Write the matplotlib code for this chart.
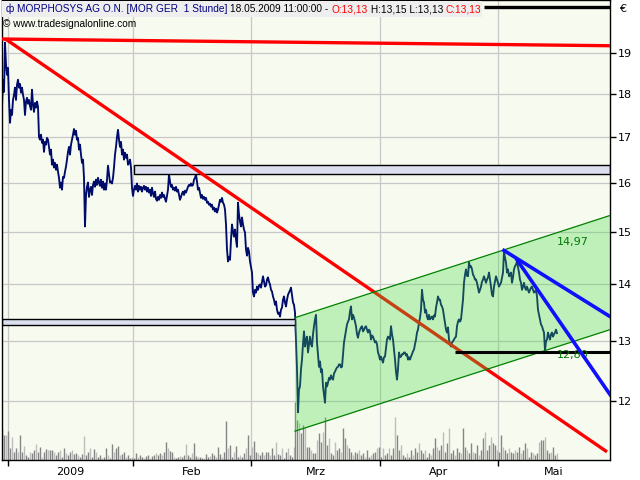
import numpy as np
import matplotlib
matplotlib.use('Agg')
import matplotlib.pyplot as plt
from matplotlib.ticker import FixedLocator, NullLocator, FixedFormatter, NullFormatter
from matplotlib.patches import Rectangle

# ---------------- data (time index = hourly-bar slot, price in EUR) ----------------
close = [
    17.69, 18.33, 18.04, 19.25, 18.70, 18.45, 18.62, 17.85, 17.32, 17.62,
    17.50, 17.85, 17.97, 18.14, 17.85, 18.21, 18.33, 18.14, 18.23, 18.02,
    18.14, 17.97, 17.85, 17.50, 17.81, 17.90, 17.76, 17.85, 17.71, 17.62,
    18.09, 17.74, 17.57, 17.78, 17.67, 17.81, 17.69, 17.00, 16.94, 17.05,
    16.87, 16.94, 16.67, 16.89, 16.83, 16.98, 16.94, 16.78, 16.61, 16.72,
    16.39, 16.50, 16.33, 16.43, 16.28, 16.39, 16.24, 16.11, 15.90, 16.01,
    15.86, 16.13, 16.11, 16.24, 16.35, 16.50, 16.67, 16.78, 16.61, 16.83,
    16.94, 17.05, 17.18, 17.05, 17.14, 16.94, 16.98, 16.72, 16.83, 16.61,
    16.43, 16.50, 16.11, 15.11, 15.75, 15.92, 16.01, 15.71, 15.86, 15.92,
    15.75, 15.96, 16.03, 15.92, 16.07, 15.96, 16.11, 16.01, 15.94, 16.07,
    15.90, 16.03, 15.86, 15.99, 15.86, 16.07, 16.37, 16.18, 16.01, 16.03,
    15.99, 16.11, 16.33, 16.61, 16.78, 17.00, 17.16, 16.94, 16.78, 16.89,
    16.61, 16.72, 16.50, 16.65, 16.54, 16.61, 16.39, 16.43, 16.50, 16.33,
    15.90, 15.73, 15.86, 15.94, 15.86, 15.99, 15.82, 15.94, 15.86, 15.92,
    15.82, 15.90, 15.94, 15.86, 15.92, 15.82, 15.90, 15.80, 15.86, 15.73,
    15.90, 15.78, 15.71, 15.82, 15.67, 15.63, 15.71, 15.65, 15.75, 15.69,
    15.80, 15.71, 15.75, 15.67, 15.61, 15.73, 15.86, 16.18, 16.03, 15.92,
    15.96, 15.86, 15.90, 15.84, 15.92, 15.82, 15.86, 15.75, 15.65, 15.71,
    15.78, 15.82, 15.75, 15.84, 15.80, 15.86, 15.92, 15.96, 15.94, 15.99,
    15.94, 15.96, 16.07, 16.11, 16.18, 16.03, 15.86, 15.90, 15.80, 15.69,
    15.75, 15.67, 15.71, 15.65, 15.69, 15.59, 15.61, 15.55, 15.57, 15.51,
    15.55, 15.45, 15.49, 15.41, 15.47, 15.39, 15.45, 15.55, 15.65, 15.61,
    15.69, 15.59, 15.55, 15.45, 15.15, 14.66, 14.43, 14.52, 14.46, 14.85,
    15.15, 15.01, 14.91, 15.05, 14.85, 14.71, 15.59, 15.35, 15.21, 15.11,
    15.29, 15.15, 15.05, 14.99, 14.66, 14.54, 14.69, 14.62, 14.43, 14.32,
    14.22, 13.85, 13.78, 13.90, 13.85, 13.96, 13.90, 13.98, 14.00, 13.94,
    14.05, 14.15, 14.05, 13.96, 13.98, 14.09, 14.13, 14.05, 14.00, 13.90,
    13.87, 13.78, 13.72, 13.63, 13.69, 13.54, 13.47, 13.49, 13.42, 13.54,
    13.58, 13.72, 13.78, 13.67, 13.60, 13.72, 13.81, 13.85, 13.89, 13.94,
    13.81, 13.67, 13.63, 13.49, 13.02, 12.52, 11.83, 12.19, 12.24, 12.52,
    12.68, 12.94, 13.16, 12.90, 13.02, 13.07, 12.80, 12.94, 13.07, 12.94,
    12.90, 13.11, 13.25, 13.37, 13.45, 12.97, 12.77, 12.56, 12.65, 12.47,
    12.52, 12.24, 12.11, 11.98, 12.30, 12.24, 12.30, 12.38, 12.35, 12.42,
    12.37, 12.35, 12.45, 12.48, 12.52, 12.55, 12.56, 12.60, 12.60, 12.55,
    12.56, 12.77, 12.97, 13.07, 13.16, 13.28, 13.33, 13.37, 13.51, 13.60,
    13.37, 13.45, 13.40, 13.33, 13.25, 13.11, 13.05, 13.14, 13.19, 13.23,
    13.25, 13.16, 13.19, 13.23, 13.25, 13.19, 13.14, 13.19, 13.16, 13.02,
    13.09, 13.07, 13.02, 12.97, 12.99, 12.94, 12.80, 12.75, 12.68, 12.73,
    12.68, 12.63, 12.72, 12.73, 12.88, 13.02, 13.07, 13.05, 13.02, 13.25,
    13.11, 13.02, 12.85, 12.68, 12.48, 12.35, 12.52, 12.80, 12.72, 12.73,
    12.77, 12.77, 12.80, 12.80, 12.75, 12.77, 12.68, 12.72, 12.68, 12.73,
    12.77, 12.82, 12.85, 12.94, 13.02, 13.14, 13.19, 13.31, 13.40, 13.54,
    13.90, 13.72, 13.67, 13.49, 13.54, 13.42, 13.37, 13.45, 13.37, 13.40,
    13.42, 13.37, 13.44, 13.42, 13.58, 13.67, 13.78, 13.72, 13.72, 13.63,
    13.60, 13.54, 13.42, 13.31, 13.19, 13.14, 13.23, 13.02, 12.94, 12.90,
    12.97, 12.99, 13.02, 13.05, 13.07, 13.25, 13.33, 13.37, 13.33, 13.37,
    13.54, 13.72, 14.03, 14.18, 14.28, 14.16, 14.15, 14.41, 14.32, 14.34,
    14.28, 14.18, 14.15, 14.09, 14.09, 14.03, 13.94, 13.85, 13.90, 13.96,
    14.05, 14.09, 14.15, 14.09, 14.03, 14.09, 14.13, 14.22, 14.09, 13.96,
    13.81, 13.78, 13.96, 14.05, 14.15, 14.09, 14.03, 13.96, 14.00, 14.03,
    14.13, 14.22, 14.62, 14.50, 14.41, 14.22, 14.28, 14.15, 14.18, 14.22,
    14.03, 14.13, 14.28, 14.34, 14.37, 14.43, 14.32, 14.22, 14.09, 14.03,
    13.90, 13.96, 14.03, 13.94, 13.90, 13.96, 13.90, 13.85, 13.90, 13.94,
    13.96, 13.90, 13.85, 13.87, 13.90, 13.78, 13.54, 13.45, 13.37, 13.28,
    13.25, 13.19, 13.14, 12.83, 12.99, 13.02, 13.14, 13.07, 13.02, 13.11,
    13.14, 13.07, 13.11, 13.14, 13.19, 13.13,
]
t_first = 2
t_price = list(range(t_first, t_first + len(close)))

volume = [
    31, 25, 25, 29, 12, 23, 8, 12, 8, 25,
    8, 14, 5, 3, 8, 7, 10, 16, 8, 13,
    3, 8, 11, 10, 10, 10, 8, 5, 8, 10,
    3, 12, 7, 5, 8, 10, 6, 7, 5, 3,
    6, 24, 5, 8, 12, 3, 11, 8, 3, 5,
    2, 3, 12, 5, 2, 16, 8, 12, 14, 5,
    6, 8, 3, 5, 2, 3, 2, 7, 3, 5,
    3, 2, 4, 5, 2, 4, 5, 7, 5, 7,
    5, 8, 18, 12, 9, 8, 3, 2, 3, 4,
    3, 5, 16, 5, 3, 7, 17, 4, 3, 3,
    2, 2, 6, 3, 4, 7, 5, 3, 13, 6,
    3, 8, 39, 12, 15, 3, 8, 14, 3, 5,
    3, 7, 12, 25, 5, 13, 19, 8, 7, 5,
    8, 5, 8, 8, 5, 12, 5, 18, 6, 5,
    12, 2, 8, 12, 5, 3, 13,
    58, 40, 37, 27, 35, 32, 13, 13, 10, 7,
    7, 20, 27, 18, 28, 43, 15, 22, 7, 5,
    18, 10, 12, 8, 32, 22, 15, 12, 8, 5,
    8, 7, 10, 5, 7, 3, 10, 3, 5, 7,
    8, 12, 13, 3, 12, 5, 7, 12, 5, 12,
    43, 25, 10, 15, 5, 3, 7, 3, 10, 5,
    12, 8, 17, 10, 7, 10, 3, 7, 5, 12,
    22, 13, 10, 15, 28, 8, 17, 32, 7, 10,
    5, 12, 8, 7, 32, 13, 10, 7, 17, 8,
    7, 15, 5, 10, 22, 28, 10, 15, 23, 17,
    15, 10, 8, 25, 13, 10, 7, 12, 8, 7,
    10, 8, 13, 7, 10, 17, 12, 3, 8, 7,
    5, 7, 18, 20, 20, 23, 10, 7, 8, 13,
    5, 7,
]
t_volume = list(range(2, 296, 2)) + list(range(295, 558, 2))

# drawing objects (time index, price)
top_red = ([2, 610], [19.34, 19.17])
diag_red = ([5, 607], [19.35, 11.23])
box_upper = (134, 610, 16.20, 16.38)
box_lower = (2, 295, 13.27, 13.38)
chan_t = [295, 610]
chan_hi = [13.40, 15.33]
chan_lo = [11.54, 13.19]
support = ([455, 610], [12.80, 12.80])
top_black = ([484, 610], [20.18, 20.18])
blue_flat = ([504, 610], [14.64, 13.42])
blue_steep = ([517, 610], [14.46, 12.11])
chan_label = (557, 14.81, "14,97")
sup_label = (557, 12.76, "12,80")

month_starts = [8, 133, 251, 380, 498]
month_names = ["2009", "Feb", "Mrz", "Apr", "Mai"]
price_ticks = [12, 13, 14, 15, 16, 17, 18, 19]
x_range = (2, 610)
y_range = (11.11, 20.36)

# ---------------- figure ----------------
W, H = 640, 480
fig = plt.figure(figsize=(W / 100, H / 100), dpi=100)
fig.patch.set_facecolor('white')
ax = fig.add_axes([2 / W, 20 / H, 608 / W, 460 / H])
ax.set_facecolor('#f7faef')
ax.set_yscale('log')
ax.set_xlim(*x_range)
ax.set_ylim(*y_range)

for sp in ax.spines.values():
    sp.set_color('black')
    sp.set_linewidth(1.0)

# grid
ax.set_axisbelow(True)
for p in price_ticks:
    ax.axhline(p, color='#c8c8c8', lw=0.9, zorder=0.5)
for m in month_starts:
    ax.axvline(m, color='#c8c8c8', lw=0.9, zorder=0.5)

# volume on its own inset axes (bottom overlay)
axv = ax.inset_axes([0, 0, 1, 1], zorder=0.8)
axv.set_xlim(*x_range)
axv.set_ylim(0, 460)
axv.axis('off')
vcols = ['#858585' if i % 3 != 2 else '#bdbdbd' for i in range(len(volume))]
axv.vlines(t_volume, 0, volume, colors=vcols, lw=1.0)

# price
ax.plot(t_price, close, color='#000c6a', lw=1.35, zorder=2)

# boxes
for (x0, x1, y0, y1) in (box_upper, box_lower):
    ax.add_patch(Rectangle((x0, y0), x1 - x0, y1 - y0, facecolor='#dcdff0',
                           edgecolor='black', lw=1.0, zorder=2.5))

# red lines
ax.plot(*top_red, color='#ff0000', lw=2.4, zorder=3, solid_capstyle='butt')
ax.plot(*diag_red, color='#ff0000', lw=2.4, zorder=3, solid_capstyle='butt')

# channel
ax.fill_between(chan_t, chan_lo, chan_hi, facecolor=(0.25, 0.86, 0.25), alpha=0.3,
                edgecolor='none', zorder=3.5)
ax.plot(chan_t, chan_hi, color='#008000', lw=0.9, zorder=3.6)
ax.plot(chan_t, chan_lo, color='#008000', lw=0.9, zorder=3.6)

# support and top line
ax.plot(*support, color='black', lw=2.2, zorder=4, solid_capstyle='butt')
ax.plot(*top_black, color='black', lw=2.4, zorder=4, solid_capstyle='butt')

# blue trend lines
ax.plot(*blue_flat, color='#1010ff', lw=2.6, zorder=4.5)
ax.plot(*blue_steep, color='#1010ff', lw=2.6, zorder=4.5)

for (tx, ty, s) in (chan_label, sup_label):
    ax.text(tx, ty, s, color='#007a00', fontsize=8, va='center', ha='left',
            family='DejaVu Sans', zorder=4.2)

# ticks
ax.yaxis.tick_right()
ax.yaxis.set_major_locator(FixedLocator(price_ticks))
ax.yaxis.set_major_formatter(FixedFormatter([str(p) for p in price_ticks]))
ax.yaxis.set_minor_locator(NullLocator())
ax.yaxis.set_minor_formatter(NullFormatter())
ax.tick_params(axis='y', which='major', direction='out', length=4, width=1,
               color='black', pad=1.5, labelsize=8, labelcolor='black')

mids = [(month_starts[i] + (month_starts[i + 1] if i + 1 < len(month_starts) else x_range[1])) / 2
        for i in range(len(month_starts))]
ax.xaxis.set_major_locator(FixedLocator(month_starts))
ax.xaxis.set_major_formatter(NullFormatter())
ax.xaxis.set_minor_locator(FixedLocator(mids))
ax.xaxis.set_minor_formatter(FixedFormatter(month_names))
ax.tick_params(axis='x', which='major', direction='out', length=4, width=1, color='black')
ax.tick_params(axis='x', which='minor', length=0, pad=5, labelsize=8)

fig.text(619 / W, 1 - 9 / H, "€", fontsize=8, ha='left', va='center')

# title line
pieces = [("ф ", '#000080'), ("MORPHOSYS AG O.N. [MOR GER  1 Stunde] ", '#000080'),
          ("18.05.2009 11:00:00 - ", 'black'), ("O:13,13", '#ff0000'),
          (" H:13,15 L:13,13 ", 'black'), ("C:13,13", '#ff0000')]
fig.canvas.draw()
r = fig.canvas.get_renderer()
fs = 8
probe = fig.text(0, 0, "".join(p[0] for p in pieces), fontsize=fs, family='Liberation Sans')
wpx = probe.get_window_extent(r).width
probe.remove()
fs = fs * 476 / wpx
x = 6
for s, c in pieces:
    tt = fig.text(x / W, 1 - 9 / H, s, color=c, fontsize=fs, family='Liberation Sans',
                  ha='left', va='center', zorder=10)
    bb = tt.get_window_extent(r)
    x = bb.x1
fig.patches.append(Rectangle((2 / W, 1 - 17 / H), (x - 2) / W, 16 / H, transform=fig.transFigure,
                             facecolor='#eeeeee', edgecolor='none', zorder=9))
fig.text(3 / W, 1 - 24 / H, "© www.tradesignalonline.com", fontsize=fs, family='Liberation Sans',
         ha='left', va='center', color='black', zorder=10)

fig.savefig('out.png', dpi=100)
